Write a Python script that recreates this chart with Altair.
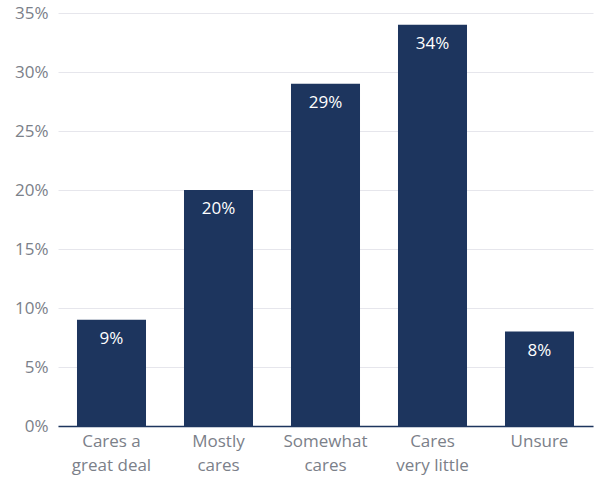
import altair as alt
import pandas as pd

categories = ["Cares a great deal", "Mostly cares", "Somewhat cares", "Cares very little", "Unsure"]
label_lines = [["Cares a", "great deal"], ["Mostly", "cares"], ["Somewhat", "cares"], ["Cares", "very little"], ["Unsure"]]
values = [9, 20, 29, 34, 8]
y_ticks = [0, 5, 10, 15, 20, 25, 30, 35]

df = pd.DataFrame({"category": categories, "value": values})

mapping = " : ".join(
    f"datum.value == '{c}' ? [{', '.join(repr(s) for s in lines)}]" for c, lines in zip(categories, label_lines)
) + " : datum.label"

font = "Open Sans"
bar_color = "#1d355e"
label_color = "#7b8089"

base = alt.Chart(df).encode(
    x=alt.X("category:N", sort=categories, title=None,
            scale=alt.Scale(paddingInner=0.355, paddingOuter=0.1775),
            axis=alt.Axis(labelAngle=0, labelExpr=mapping, labelFont=font, labelFontSize=17,
                          labelColor=label_color, labelLineHeight=24, labelPadding=7,
                          ticks=False, domainColor=bar_color, domainWidth=1.5, grid=False)),
    y=alt.Y("value:Q", title=None,
            scale=alt.Scale(domain=[0, 35], nice=False),
            axis=alt.Axis(values=y_ticks, labelExpr="datum.value + '%'", labelFont=font,
                          labelFontSize=17, labelColor=label_color, labelPadding=10,
                          ticks=False, domain=False, gridColor="#e6e6ec", gridWidth=1)),
)

bars = base.mark_bar(color=bar_color)
text = base.transform_calculate(lbl="datum.value + '%'").mark_text(
    baseline="middle", dy=19, color="white", font=font, fontSize=17
).encode(text="lbl:N")

chart = (bars + text).properties(
    width=535, height=413,
    background="white",
    autosize=alt.AutoSizeParams(type="none"),
    padding={"left": 58, "top": 13, "right": 7, "bottom": 51},
).configure_view(stroke=None)

chart.save("out.html", embed_options={"renderer": "svg", "actions": False})
